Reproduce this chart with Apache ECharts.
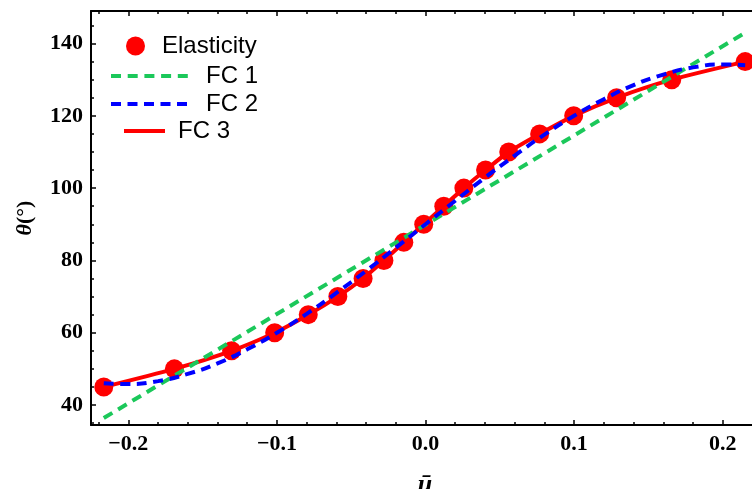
<!DOCTYPE html>
<html>
<head>
<meta charset="utf-8">
<script src="https://cdn.jsdelivr.net/npm/echarts@6/dist/echarts.min.js"></script>
<style>
html,body{margin:0;padding:0;background:#fff;}
#chart{width:752px;height:489px;}
</style>
</head>
<body>
<div id="chart"></div>
<script>
// ---- data ----
const elasticityU = [-0.2165, -0.169, -0.1305, -0.1015, -0.0789, -0.059, -0.042, -0.028, -0.0146, -0.0012,
                     0.0123, 0.0258, 0.0404, 0.056, 0.0768, 0.0997, 0.1286, 0.1657, 0.2151];
const elasticityTheta = [45, 50, 55, 60, 65, 70, 75, 80, 85, 90, 95, 100, 105, 110, 115, 120, 125, 130, 135];

const fc1U = [-0.2165, 0.2151];
const fc1Theta = [36.4, 143.0];

const fc2U = [-0.2165, -0.20, -0.18, -0.16, -0.14, -0.12, -0.10, -0.08, -0.06, -0.04, -0.02, 0,
              0.02, 0.04, 0.06, 0.08, 0.10, 0.12, 0.14, 0.16, 0.18, 0.20, 0.2151];
const fc2Theta = [46.0, 45.8, 46.6, 48.6, 51.5, 55.4, 60.0, 65.2, 71.0, 77.1, 83.5, 90,
                  96.5, 102.9, 109.0, 114.8, 120.0, 124.6, 128.5, 131.4, 133.4, 134.2, 134.0];

const xMajorTicks = [-0.2, -0.1, 0, 0.1, 0.2];
const xMinorTicks = [-0.22, -0.18, -0.16, -0.14, -0.12, -0.08, -0.06, -0.04, -0.02,
                     0.02, 0.04, 0.06, 0.08, 0.12, 0.14, 0.16, 0.18];
const yMajorTicks = [40, 60, 80, 100, 120, 140];
const yMinorTicks = [35, 45, 50, 55, 65, 70, 75, 85, 90, 95, 105, 110, 115, 125, 130, 135, 145];

const X_MIN = -0.2251, X_MAX = 0.2197;
const Y_MIN = 34.47, Y_MAX = 149.0;

// ---- helpers ----
const zip = (a, b) => a.map((v, i) => [v, b[i]]);
const RED = '#FF0000', GREEN = '#1BC85A', BLUE = '#0000FF';
const LABEL_FONT = 'Liberation Serif';
const fmtX = v => (v < -1e-9 ? '\u2212' : '') + Math.abs(v).toFixed(1);

function xAxis(pos, ticks, len, showLine, showLabel) {
  return {
    type: 'value', gridIndex: 0, position: pos, offset: 0,
    min: X_MIN, max: X_MAX,
    axisLine: { show: showLine, onZero: false, lineStyle: { color: '#000', width: 2 } },
    axisTick: { show: true, inside: true, length: len, customValues: ticks, lineStyle: { color: '#000', width: 1.5 } },
    axisLabel: showLabel ? {
      show: true, customValues: ticks, formatter: fmtX, margin: 8,
      fontFamily: LABEL_FONT, fontWeight: 'bold', fontSize: 22, color: '#000'
    } : { show: false },
    splitLine: { show: false }
  };
}
function yAxis(ticks, len, showLine, showLabel) {
  return {
    type: 'value', gridIndex: 0, position: 'left', offset: 0,
    min: Y_MIN, max: Y_MAX,
    axisLine: { show: showLine, onZero: false, lineStyle: { color: '#000', width: 2 } },
    axisTick: { show: true, inside: true, length: len, customValues: ticks, lineStyle: { color: '#000', width: 1.5 } },
    axisLabel: showLabel ? {
      show: true, customValues: ticks, margin: 8,
      fontFamily: LABEL_FONT, fontWeight: 'bold', fontSize: 22, color: '#000'
    } : { show: false },
    splitLine: { show: false }
  };
}

const xMain = xAxis('bottom', xMajorTicks, 5, true, true);
xMain.name = '\u016B';
xMain.nameLocation = 'middle';
xMain.nameGap = 47;
xMain.nameTextStyle = { fontFamily: LABEL_FONT, fontWeight: 'bold', fontStyle: 'italic', fontSize: 26, color: '#000', padding: [0, 0, 0, 7] };

const yMain = yAxis(yMajorTicks, 5, true, true);
yMain.name = '{i|\u03B8}(\u00B0)';
yMain.nameLocation = 'middle';
yMain.nameGap = 55;
yMain.nameTextStyle = {
  fontFamily: LABEL_FONT, fontWeight: 'bold', fontSize: 22, color: '#000',
  rich: { i: { fontFamily: LABEL_FONT, fontWeight: 'bold', fontStyle: 'italic', fontSize: 22, color: '#000' } }
};

const legendFont = { fontFamily: 'Liberation Sans', fontSize: 24, color: '#000' };
function legendItem(name, left, top, w, h, padLeft, hideSymbol) {
  const l = {
    data: [name], left: left, top: top, padding: 0, orient: 'horizontal',
    itemWidth: w, itemHeight: h, selectedMode: false,
    lineStyle: { width: 4 },
    textStyle: Object.assign({ padding: [0, 0, 0, padLeft] }, legendFont)
  };
  if (hideSymbol) l.itemStyle = { opacity: 0 };
  return l;
}

const option = {
  animation: false,
  backgroundColor: '#fff',
  grid: { left: 91, right: 0, top: 11, bottom: 64, containLabel: false, outerBoundsMode: 'none' },
  legend: [
    legendItem('Elasticity', 126, 34, 19, 19, 12, false),
    legendItem('FC 1', 109, 64, 77, 14, 13, true),
    legendItem('FC 2', 109, 92, 77, 14, 13, true),
    legendItem('FC 3', 122, 119, 41, 14, 8, true)
  ],
  xAxis: [
    xMain,
    xAxis('bottom', xMinorTicks, 3, false, false),
    xAxis('top', xMajorTicks, 5, true, false),
    xAxis('top', xMinorTicks, 3, false, false)
  ],
  yAxis: [
    yMain,
    yAxis(yMinorTicks, 3, false, false)
  ],
  series: [
    {
      name: 'Elasticity', type: 'scatter', xAxisIndex: 0, yAxisIndex: 0,
      data: zip(elasticityU, elasticityTheta),
      symbol: 'circle', symbolSize: 19,
      itemStyle: { color: RED, opacity: 1 }, z: 2
    },
    {
      name: 'FC 3', type: 'line', xAxisIndex: 0, yAxisIndex: 0,
      data: zip(elasticityU, elasticityTheta),
      symbol: 'none', smooth: 0.25,
      lineStyle: { color: RED, width: 4 }, itemStyle: { color: RED }, z: 3
    },
    {
      name: 'FC 1', type: 'line', xAxisIndex: 0, yAxisIndex: 0,
      data: zip(fc1U, fc1Theta),
      symbol: 'none',
      lineStyle: { color: GREEN, width: 4, type: [10, 6.7] }, itemStyle: { color: GREEN }, z: 4
    },
    {
      name: 'FC 2', type: 'line', xAxisIndex: 0, yAxisIndex: 0,
      data: zip(fc2U, fc2Theta),
      symbol: 'none', smooth: true,
      lineStyle: { color: BLUE, width: 4, type: [10, 6.5] }, itemStyle: { color: BLUE }, z: 5
    }
  ]
};

const chart = echarts.init(document.getElementById('chart'), null, { renderer: 'canvas' });
chart.setOption(option);
</script>
</body>
</html>
